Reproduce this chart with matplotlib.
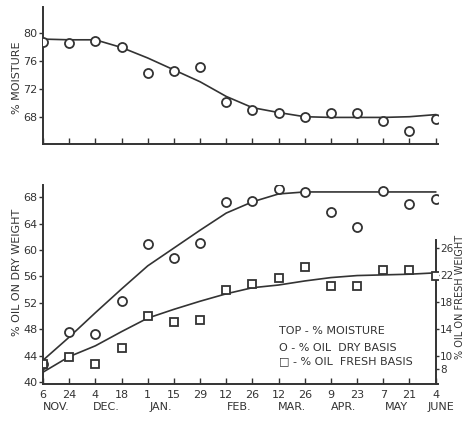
import matplotlib.pyplot as plt
from matplotlib.transforms import blended_transform_factory

# sampling dates (evenly spaced on the chart)
day_labels = ['6', '24', '4', '18', '1', '15', '29', '12', '26', '12', '26', '9', '23', '7', '21', '4']
months = ['NOV.', 'DEC.', 'JAN.', 'FEB.', 'MAR.', 'APR.', 'MAY', 'JUNE']
month_pos = [0.5, 2.4, 4.5, 7.5, 9.5, 11.5, 13.5, 15.2]
x = list(range(len(day_labels)))

# top panel: % moisture
moisture = [78.7, 78.6, 78.9, 77.9, 74.3, 74.6, 75.1, 70.1, 68.9, 68.6, 68.0, 68.6, 68.6, 67.4, 65.9, 67.7]
moisture_curve = [79.1, 79.0, 79.0, 77.9, 76.4, 74.7, 73.0, 70.9, 69.3, 68.6, 68.0, 67.9, 67.9, 67.9, 68.0, 68.3]

# bottom panel: % oil, dry basis (left axis) and fresh basis (right axis)
oil_dry = [42.7, 47.6, 47.3, 52.3, 60.9, 58.8, 61.1, 67.3, 67.4, 69.2, 68.8, 65.8, 63.5, 68.9, 67.0, 67.7]
oil_dry_curve = [43.3, 46.8, 50.5, 54.1, 57.6, 60.3, 63.0, 65.6, 67.3, 68.5, 68.8, 68.8, 68.8, 68.8, 68.8, 68.8]
oil_fresh = [8.8, 9.9, 8.8, 11.2, 15.9, 15.0, 15.3, 19.8, 20.7, 21.6, 23.2, 20.4, 20.4, 22.7, 22.7, 21.9]
oil_fresh_curve = [7.6, 9.9, 11.5, 13.6, 15.6, 16.9, 18.1, 19.2, 20.1, 20.5, 21.1, 21.6, 21.9, 22.0, 22.1, 22.3]

ink = '#333333'
plt.rcParams['font.family'] = ['DejaVu Sans']
plt.rcParams['text.color'] = ink

fig = plt.figure(figsize=(4.65, 4.23), dpi=100)
ax1 = fig.add_axes([0.0925, 0.6596, 0.85, 0.324])
ax2 = fig.add_axes([0.0925, 0.0922, 0.850, 0.4704])

mk = dict(linestyle='none', markerfacecolor='white', markeredgecolor=ink, markeredgewidth=1.3, zorder=3)

# top
ax1.plot(x, moisture_curve, color=ink, lw=1.2)
ax1.plot(x, moisture, marker='o', markersize=6.5, **mk)
ax1.set_xlim(0, 15.1)
ax1.set_ylim(64.1, 83.7)
ax1.set_yticks([68, 72, 76, 80])
ax1.set_xticks(x)
ax1.set_xticklabels([])
ax1.spines[['top', 'right']].set_visible(False)
ax1.set_ylabel('% MOISTURE', fontsize=8, color=ink)
ax1.yaxis.set_label_coords(-0.052, 0.48)

# bottom
ax2.plot(x, oil_dry_curve, color=ink, lw=1.2)
ax2.plot(x, oil_dry, marker='o', markersize=6.5, **mk)
ax2.set_xlim(0, 15.1)
ax2.set_ylim(39.7, 69.85)
ax2.set_yticks([40, 44, 48, 52, 56, 60, 64, 68])
ax2.set_xticks(x)
ax2.set_xticklabels(day_labels, fontsize=8)
ax2.spines[['top', 'right']].set_visible(False)
ax2.set_ylabel('% OIL ON DRY WEIGHT', fontsize=8, color=ink)
ax2.yaxis.set_label_coords(-0.052, 0.56)

ax3 = ax2.twinx()
ax3.plot(x, oil_fresh_curve, color=ink, lw=1.2)
ax3.plot(x, oil_fresh, marker='s', markersize=5.5, **mk)
ax3.set_xlim(0, 15.1)
ax3.set_ylim(5.85, 35.3)
ax3.set_yticks([8, 10, 14, 18, 22, 26])
ax3.spines[['top', 'left', 'bottom']].set_visible(False)
ax3.spines['right'].set_position(('data', 15))
ax3.spines['right'].set_bounds(5.85, 27.2)
ax3.set_ylabel('% OIL ON FRESH WEIGHT', fontsize=7, color=ink)
ax3.yaxis.set_label_coords(1.042, 0.44)

for a in (ax1, ax2, ax3):
    for s in a.spines.values():
        s.set_color(ink)
        s.set_linewidth(1.4)
    a.tick_params(axis='y', direction='out', length=3, width=1, pad=1, labelsize=8, colors=ink)
    a.tick_params(axis='x', direction='in', length=4, width=1, pad=4, colors=ink)
ax3.tick_params(axis='y', length=2.5, pad=0.5, labelsize=7.5)

trans = blended_transform_factory(ax2.transData, ax2.transAxes)
for m, p in zip(months, month_pos):
    ax2.text(p, -0.115, m, transform=trans, ha='center', va='center', fontsize=8, color=ink)

ax2.text(9.0, 0.266, 'TOP - % MOISTURE', transform=trans, va='center', fontsize=8, color=ink)
ax2.text(9.0, 0.18, 'O - % OIL  DRY BASIS', transform=trans, va='center', fontsize=8, color=ink)
ax2.text(9.0, 0.115, '\u25a1 - % OIL  FRESH BASIS', transform=trans, va='center', fontsize=8, color=ink)

fig.savefig('out.png', dpi=100, facecolor='white')
